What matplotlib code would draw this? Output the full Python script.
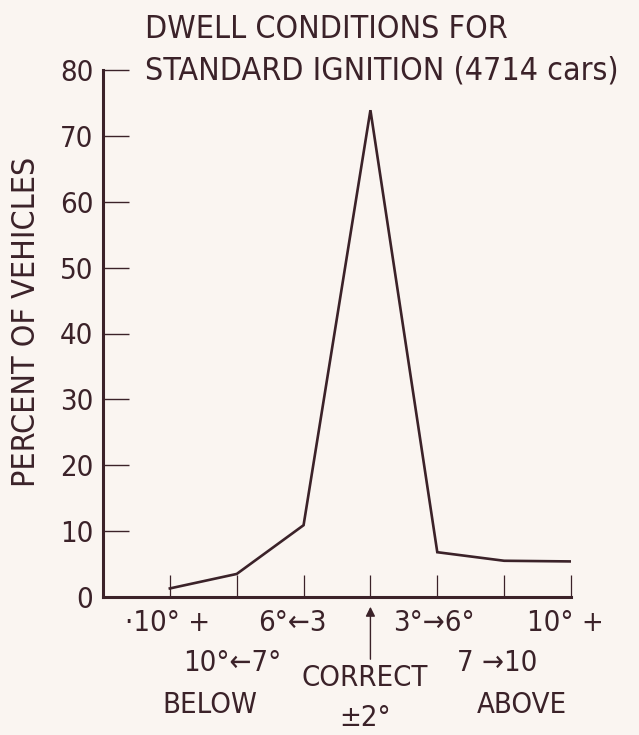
import matplotlib
matplotlib.use("Agg")
import matplotlib.pyplot as plt

# dwell categories (positions 1..7 on the x axis) and percent of vehicles
categories = ["10+ below", "10-7 below", "6-3 below", "correct", "3-6 above", "7-10 above", "10+ above"]
percent = [1.3, 3.5, 10.9, 73.9, 6.8, 5.5, 5.4]
y_ticks = [0, 10, 20, 30, 40, 50, 60, 70, 80]

ink = "#3b2229"
paper = "#faf5f1"
plt.rcParams["font.family"] = ["DejaVu Sans"]
plt.rcParams["font.stretch"] = "condensed"
plt.rcParams["text.color"] = ink
FS = 21

fig = plt.figure(figsize=(6.39, 7.35), dpi=100, facecolor=paper)
ax = fig.add_axes([103 / 639, 138 / 735, (571 - 103) / 639, (597 - 70) / 735])
ax.set_facecolor(paper)

xs = list(range(1, len(categories) + 1))
ax.plot(xs, percent, color=ink, lw=1.9, solid_joinstyle="miter")

ax.set_xlim(0, 7)
ax.set_ylim(0, 80)
ax.set_yticks(y_ticks)
ax.set_yticklabels([str(v) for v in y_ticks], fontsize=FS, color=ink)
ax.set_xticks(xs)
ax.set_xticklabels([])
ax.tick_params(axis="y", direction="in", length=19, width=1.0, color=ink, pad=7)
ax.tick_params(axis="x", direction="in", length=16, width=0.9, color=ink)
for s in ["top", "right"]:
    ax.spines[s].set_visible(False)
for s in ["left", "bottom"]:
    ax.spines[s].set_color(ink)
    ax.spines[s].set_linewidth(2.2)

fig.text(27 / 639, 1 - 322 / 735, "PERCENT OF VEHICLES", rotation=90,
         ha="center", va="center", fontsize=23)

# title
fig.text(145 / 639, 1 - 30 / 735, "DWELL CONDITIONS FOR", fontsize=23, ha="left", va="center")
fig.text(145 / 639, 1 - 71 / 735, "STANDARD IGNITION (4714 cars)", fontsize=23, ha="left", va="center")

# category labels under the axis
tr = ax.get_xaxis_transform()
def fy(py):
    # figure pixel row -> axes fraction
    return ((735 - py) / 735 - 138 / 735) / ((597 - 70) / 735)

labels = [
    (0.96, 623, "·10° +"),
    (2.84, 623, "6°←3"),
    (4.95, 623, "3°→6°"),
    (6.91, 623, "10° +"),
    (1.93, 663, "10°←7°"),
    (3.92, 678, "CORRECT"),
    (5.90, 663, "7 →10"),
    (1.60, 705, "BELOW"),
    (6.27, 705, "ABOVE"),
    (3.92, 718, "±2°"),
]
for x, py, t in labels:
    ax.text(x, fy(py), t, transform=tr, ha="center", va="center", fontsize=FS,
            clip_on=False)

ax.annotate("", xy=(4, fy(604)), xytext=(4, fy(662)), xycoords=tr, textcoords=tr,
            arrowprops=dict(arrowstyle="-|>", color=ink, lw=1.0, mutation_scale=14))

fig.savefig("out.png", dpi=100, facecolor=paper)
